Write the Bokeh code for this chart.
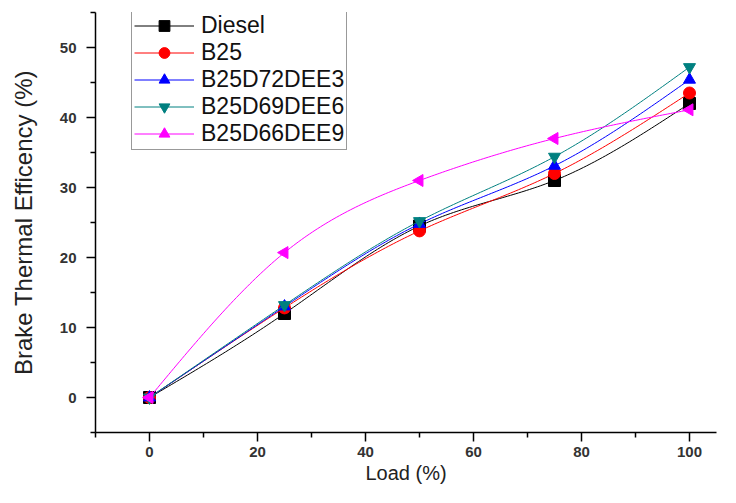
import numpy as np
from bokeh.plotting import figure
from bokeh.models import Range1d, Legend, LegendItem, FixedTicker, ColumnDataSource
from bokeh.embed import file_html
from bokeh.resources import INLINE

load = [0, 25, 50, 75, 100]
diesel = [0, 12.0, 24.5, 31.0, 42.0]
b25 = [0, 12.8, 23.8, 32.0, 43.5]
b25d72dee3 = [0, 13.0, 24.8, 33.1, 45.4]
b25d69dee6 = [0, 13.2, 25.2, 34.4, 47.2]
b25d66dee9 = [0, 20.7, 31.0, 37.0, 41.1]

series = [
    ("Diesel", diesel, "black", "square", 0.0),
    ("B25", b25, "red", "circle", 0.0),
    ("B25D72DEE3", b25d72dee3, "blue", "triangle", 0.0),
    ("B25D69DEE6", b25d69dee6, "#008080", "inverted_triangle", 0.0),
    ("B25D66DEE9", b25d66dee9, "magenta", "triangle", 90.0),
]


def natural_spline(x, y, n=200):
    x = np.asarray(x, float)
    y = np.asarray(y, float)
    m = len(x)
    h = np.diff(x)
    A = np.zeros((m, m))
    b = np.zeros(m)
    A[0, 0] = 1
    A[-1, -1] = 1
    for i in range(1, m - 1):
        A[i, i - 1] = h[i - 1]
        A[i, i] = 2 * (h[i - 1] + h[i])
        A[i, i + 1] = h[i]
        b[i] = 6 * ((y[i + 1] - y[i]) / h[i] - (y[i] - y[i - 1]) / h[i - 1])
    M = np.linalg.solve(A, b)
    xs = np.linspace(x[0], x[-1], n)
    ys = np.empty_like(xs)
    for k, xv in enumerate(xs):
        i = min(np.searchsorted(x, xv, side="right") - 1, m - 2)
        t0 = x[i + 1] - xv
        t1 = xv - x[i]
        ys[k] = (M[i] * t0 ** 3 / (6 * h[i]) + M[i + 1] * t1 ** 3 / (6 * h[i])
                 + (y[i] / h[i] - M[i] * h[i] / 6) * t0
                 + (y[i + 1] / h[i] - M[i + 1] * h[i] / 6) * t1)
    return xs, ys


p = figure(width=720, height=487, output_backend="svg", toolbar_location=None,
           x_range=Range1d(-10, 105), y_range=Range1d(-5, 55),
           min_border_left=95, min_border_right=4, min_border_top=12, min_border_bottom=55)
p.outline_line_color = None
p.grid.visible = False
p.background_fill_color = "white"
p.border_fill_color = "white"

items = []
for name, vals, color, marker, ang in series:
    xs, ys = natural_spline(load, vals)
    r1 = p.line(xs, ys, line_color=color, line_width=1)
    src = ColumnDataSource(dict(x=load, y=vals, a=[ang] * len(load)))
    r2 = p.scatter("x", "y", source=src, marker=marker, angle="a", angle_units="deg",
                   size=12, fill_color=color, line_color=color)
    items.append(LegendItem(label=name, renderers=[r1, r2], index=0))

legend = Legend(items=items, location=(36, 282))
legend.border_line_color = "#333333"
legend.border_line_width = 1.5
legend.background_fill_alpha = 1
legend.label_text_font = "Liberation Sans"
legend.label_text_font_size = "23px"
legend.label_text_color = "#111111"
legend.glyph_width = 60
legend.glyph_height = 27
legend.label_height = 27
legend.spacing = 0
legend.padding = 2
legend.margin = 0
legend.label_standoff = 7
p.add_layout(legend, "center")

for ax in (p.xaxis[0], p.yaxis[0]):
    ax.axis_line_color = "black"
    ax.axis_line_width = 1.5
    ax.major_tick_line_color = "black"
    ax.minor_tick_line_color = "black"
    ax.major_tick_line_width = 1.5
    ax.minor_tick_line_width = 1.5
    ax.major_tick_out = 9
    ax.major_tick_in = 0
    ax.minor_tick_out = 5
    ax.minor_tick_in = 0
    ax.major_label_text_font = "Liberation Sans"
    ax.major_label_text_font_size = "15px"
    ax.major_label_text_font_style = "bold"
    ax.major_label_text_color = "#333333"
    ax.axis_label_text_font = "Liberation Sans"
    ax.axis_label_text_font_style = "normal"
    ax.axis_label_text_color = "#222222"

p.xaxis.ticker = FixedTicker(ticks=[0, 20, 40, 60, 80, 100],
                             minor_ticks=[-10, 10, 30, 50, 70, 90])
p.yaxis.ticker = FixedTicker(ticks=[0, 10, 20, 30, 40, 50],
                             minor_ticks=[-5, 5, 15, 25, 35, 45, 55])
p.xaxis.axis_label = "Load (%)"
p.yaxis.axis_label = "Brake Thermal Efficency (%)"
p.xaxis.axis_label_text_font_size = "20px"
p.yaxis.axis_label_text_font_size = "24px"
p.xaxis.major_label_standoff = 5
p.yaxis.major_label_standoff = 10
p.xaxis.axis_label_standoff = 2
p.yaxis.axis_label_standoff = 20

open("out.html", "w").write(file_html(p, INLINE))
